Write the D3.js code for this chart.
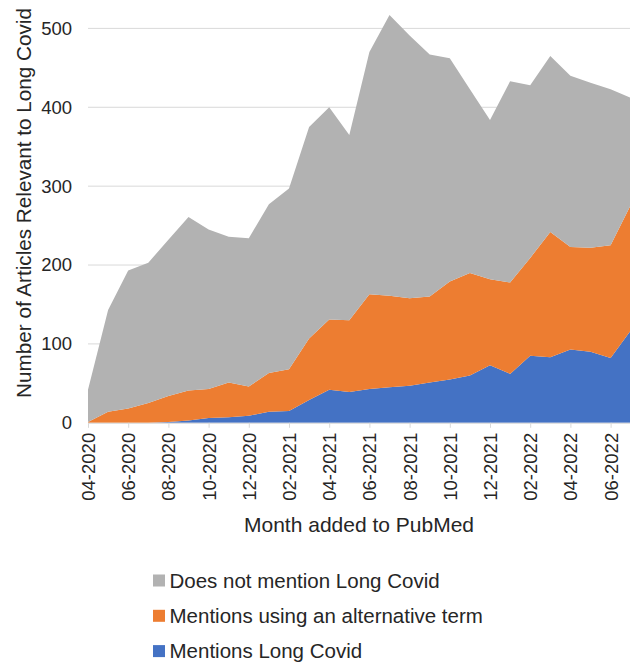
<!DOCTYPE html>
<html>
<head>
<meta charset="utf-8">
<script src="https://cdn.jsdelivr.net/npm/d3@7"></script>
<style>
  html, body { margin: 0; padding: 0; background: #fff; }
  svg { display: block; font-family: "Liberation Sans", Arial, sans-serif; }
</style>
</head>
<body>
<svg id="chart" width="630" height="663"></svg>
<script>
// Monthly counts of PubMed articles relevant to Long Covid
const months = ["04-2020","05-2020","06-2020","07-2020","08-2020","09-2020","10-2020","11-2020","12-2020",
  "01-2021","02-2021","03-2021","04-2021","05-2021","06-2021","07-2021","08-2021","09-2021","10-2021","11-2021","12-2021",
  "01-2022","02-2022","03-2022","04-2022","05-2022","06-2022","07-2022"];
const mentionsLongCovid = [0,0,0,0,1,3,6,7,9,14,15,29,42,39,43,45,47,51,55,60,73,62,85,83,93,90,82,117];
const mentionsAlternative = [1,14,18,25,33,38,37,44,37,49,53,78,89,91,120,116,111,109,124,130,109,116,124,159,130,132,143,159];
const doesNotMention = [41,129,175,178,198,220,202,185,188,214,229,268,269,235,307,356,333,307,283,233,202,255,219,223,217,209,198,136];
const yTicks = [0,100,200,300,400,500];
const xTickLabels = months.filter((m, i) => i % 2 === 0);

const seriesInfo = [
  { key: "lc",  name: "Mentions Long Covid", values: mentionsLongCovid, color: "#4472c4" },
  { key: "alt", name: "Mentions using an alternative term", values: mentionsAlternative, color: "#ed7d31" },
  { key: "not", name: "Does not mention Long Covid", values: doesNotMention, color: "#b2b2b2" }
];

const table = months.map((m, i) => {
  const row = { month: m };
  seriesInfo.forEach(s => { row[s.key] = s.values[i]; });
  return row;
});

const svg = d3.select("#chart");
const plotLeft = 88, plotRight = 630.7, plotTop = 28.4, plotBottom = 422.8;
const textColor = "#262626";

const x = d3.scalePoint().domain(months).range([plotLeft, plotRight]);
const y = d3.scaleLinear().domain([0, 500]).range([plotBottom, plotTop]);

// horizontal gridlines
svg.append("g")
  .selectAll("line")
  .data(yTicks.filter(t => t > 0))
  .join("line")
  .attr("x1", plotLeft).attr("x2", 630)
  .attr("y1", d => y(d)).attr("y2", d => y(d))
  .attr("stroke", "#d9d9d9").attr("stroke-width", 1);

// stacked areas
const stack = d3.stack().keys(seriesInfo.map(s => s.key));
const layers = stack(table);
const area = d3.area()
  .x(d => x(d.data.month))
  .y0(d => y(d[0]))
  .y1(d => y(d[1]));

svg.append("g")
  .selectAll("path")
  .data(layers)
  .join("path")
  .attr("d", area)
  .attr("fill", (d, i) => seriesInfo[i].color);

// y axis (labels only)
const yAxis = d3.axisLeft(y).tickValues(yTicks).tickSize(0).tickPadding(0);
const gy = svg.append("g").attr("transform", `translate(${plotLeft - 16},0)`).call(yAxis);
gy.select(".domain").remove();
gy.selectAll("text")
  .attr("font-size", 18.5).attr("fill", textColor)
  .attr("font-family", "Liberation Sans, Arial, sans-serif");

// x axis
const xAxis = d3.axisBottom(x)
  .tickValues(xTickLabels)
  .tickSize(5)
  .tickPadding(6);
const gx = svg.append("g").attr("transform", `translate(0,${plotBottom})`).call(xAxis);
gx.select(".domain").attr("stroke", "#d9d9d9").attr("d", `M${plotLeft},0.5H630`);
gx.selectAll(".tick line").attr("stroke", "#d9d9d9");
gx.selectAll("text")
  .attr("font-size", 18.5).attr("fill", textColor)
  .attr("font-family", "Liberation Sans, Arial, sans-serif")
  .attr("transform", "rotate(-90)")
  .attr("text-anchor", "end")
  .attr("dy", "0.35em")
  .attr("x", -10)
  .attr("y", 0);

// axis titles
svg.append("text")
  .attr("transform", "translate(30.5,203) rotate(-90)")
  .attr("text-anchor", "middle")
  .attr("font-size", 20.7).attr("fill", textColor)
  .text("Number of Articles Relevant to Long Covid");

svg.append("text")
  .attr("x", 359).attr("y", 532)
  .attr("text-anchor", "middle")
  .attr("font-size", 21).attr("fill", textColor)
  .text("Month added to PubMed");

// legend (top to bottom: reverse of stacking order)
const legendItems = seriesInfo.slice().reverse();
const lg = svg.append("g").attr("transform", "translate(153,580.5)");
const legendRow = lg.selectAll("g").data(legendItems).join("g")
  .attr("transform", (d, i) => `translate(0,${i * 35.3})`);
legendRow.append("rect")
  .attr("x", 0).attr("y", -6).attr("width", 12).attr("height", 12)
  .attr("fill", d => d.color);
legendRow.append("text")
  .attr("x", 16.5).attr("y", 0).attr("dy", "0.36em")
  .attr("font-size", 20.5).attr("fill", textColor)
  .text(d => d.name);
</script>
</body>
</html>
